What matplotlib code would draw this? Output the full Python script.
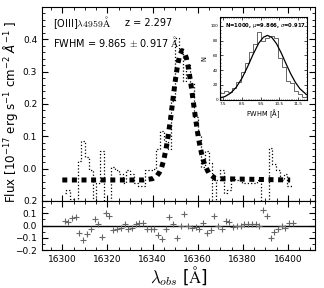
import matplotlib
matplotlib.use("Agg")
import matplotlib.pyplot as plt
from matplotlib.ticker import MultipleLocator

# 観測スペクトル ([OIII]4959 付近)
wave = [16301.0, 16302.7, 16304.3, 16306.0, 16307.6, 16309.3, 16311.0, 16312.6,
        16314.3, 16315.9, 16317.6, 16319.3, 16320.9, 16322.6, 16324.2, 16325.9,
        16327.6, 16329.2, 16330.9, 16332.5, 16334.2, 16335.9, 16337.5, 16339.2,
        16340.8, 16342.5, 16344.2, 16345.8, 16347.5, 16349.1, 16350.8, 16352.5,
        16354.1, 16355.8, 16357.4, 16359.1, 16360.8, 16362.4, 16364.1, 16365.7,
        16367.4, 16369.1, 16370.7, 16372.4, 16374.0, 16375.7, 16377.4, 16379.0,
        16380.7, 16382.3, 16384.0, 16385.7, 16387.3, 16389.0, 16390.6, 16392.3,
        16394.0, 16395.6, 16397.3, 16398.9, 16400.6, 16402.3]
flux = [-0.075, -0.065, -0.095, -0.105, 0.025, 0.085, 0.035, -0.005,
        -0.11, -0.045, 0.055, -0.135, -0.115, 0.005, -0.005, -0.015,
        -0.045, -0.005, -0.015, -0.045, -0.055, -0.055, -0.005, -0.005,
        -0.002, 0.06, 0.115, 0.085, 0.06, 0.208, 0.405, 0.36,
        0.27, 0.32, 0.265, 0.16, 0.105, 0.005, 0.055, 0.018,
        -0.11, -0.035, -0.005, -0.075, -0.065, -0.025, -0.035, -0.035,
        -0.045, -0.045, -0.045, -0.045, -0.035, -0.165, -0.115, 0.065,
        0.015, -0.005, -0.035, -0.015, -0.055, -0.055]
resid = [0.04, 0.03, 0.06, 0.07, -0.06, -0.12, -0.07, -0.03,
         0.05, 0.01, -0.09, 0.10, 0.08, -0.04, -0.03, -0.02,
         0.01, -0.03, -0.02, 0.01, 0.02, 0.02, -0.03, -0.03,
         -0.03, -0.08, -0.11, -0.03, 0.07, 0.01, -0.10, 0.00,
         0.09, 0.00, -0.02, -0.01, -0.03, 0.02, -0.06, -0.04,
         0.08, 0.00, -0.03, 0.04, 0.03, -0.01, 0.00, 0.00,
         0.01, 0.01, 0.01, 0.01, 0.00, 0.13, 0.08, -0.10,
         -0.05, -0.03, 0.00, -0.02, 0.02, 0.02]

# ガウスフィット
model_wave = [16300, 16336, 16340, 16342, 16343, 16344, 16345, 16346, 16347,
              16348, 16349, 16350, 16351, 16352, 16353, 16354, 16355, 16356,
              16357, 16358, 16359, 16360, 16361, 16362, 16363, 16365, 16368, 16401]
model_flux = [-0.035, -0.035, -0.031, -0.022, -0.012, 0.003, 0.028, 0.062, 0.105,
              0.155, 0.212, 0.268, 0.316, 0.350, 0.365, 0.362, 0.342, 0.308,
              0.262, 0.210, 0.158, 0.110, 0.070, 0.038, 0.014, -0.015, -0.031, -0.035]

# FWHM のモンテカルロ分布 (インセット)
fwhm_edges = [7.33, 7.55, 7.77, 7.99, 8.21, 8.43, 8.65, 8.87, 9.09, 9.31, 9.53,
              9.75, 9.97, 10.19, 10.41, 10.63, 10.85, 11.07, 11.29, 11.51, 11.73, 11.95]
fwhm_counts = [9, 12, 10, 16, 24, 38, 50, 64, 76, 92, 79, 84, 86, 83, 57, 44, 25, 22, 12, 7, 3]
fit_x = [7.33, 7.6, 7.9, 8.2, 8.5, 8.8, 9.1, 9.4, 9.65, 9.866, 10.1, 10.35,
         10.6, 10.85, 11.1, 11.35, 11.6, 11.95]
fit_n = [1.9, 4.1, 8.7, 16.7, 28.7, 44.3, 61.4, 76.5, 84.6, 87.0, 84.2, 75.7,
         63.2, 48.9, 35.2, 23.5, 14.6, 6.6]


def style_axis(ax, size):
    ax.tick_params(which="both", direction="in", top=True, right=True, labelsize=size)
    ax.tick_params(which="major", length=4, width=0.8)
    ax.tick_params(which="minor", length=2, width=0.6)


fig = plt.figure(figsize=(3.24, 2.88), dpi=100)
ax = fig.add_axes([0.1296, 0.3021, 0.8426, 0.6736])
axr = fig.add_axes([0.1296, 0.1319, 0.8426, 0.1702], sharex=ax)
axin = fig.add_axes([0.679, 0.6545, 0.267, 0.2865])

# スペクトルとフィット
ax.plot(wave, flux, color="k", ls=":", lw=0.9, drawstyle="steps-mid")
ax.plot(model_wave, model_flux, color="k", lw=3.6, ls=(0, (1, 0.92)))
ax.set_xlim(16291, 16412)
ax.set_ylim(-0.1, 0.5)
ax.set_yticks([0.0, 0.1, 0.2, 0.3, 0.4])
ax.yaxis.set_minor_locator(MultipleLocator(0.02))
ax.xaxis.set_major_locator(MultipleLocator(20))
ax.xaxis.set_minor_locator(MultipleLocator(5))
style_axis(ax, 6.5)
ax.tick_params(labelbottom=False)
ax.set_ylabel(r"Flux [10$^{-17}$ erg s$^{-1}$ cm$^{-2}$ $\AA^{-1}$ ]", fontsize=8.6)
ax.yaxis.set_label_coords(-0.082, 0.46)

ax.text(0.04, 0.92, r"[OIII]$\lambda4959\rm{\AA}$", transform=ax.transAxes,
        fontsize=7, va="center", math_fontfamily="cm")
ax.text(0.305, 0.92, "z = 2.297", transform=ax.transAxes, fontsize=7, va="center")
ax.text(0.04, 0.82, r"FWHM = 9.865 $\pm$ 0.917 $\rm{\AA}$", transform=ax.transAxes,
        fontsize=7, va="center", math_fontfamily="cm")

# 残差
axr.axhline(0, color="k", lw=1)
axr.plot(wave, resid, ls="none", marker="+", ms=4.5, mew=0.8, color="0.4")
axr.set_ylim(-0.2, 0.2)
axr.set_yticks([-0.2, -0.1, 0.0, 0.1, 0.2])
axr.yaxis.set_minor_locator(MultipleLocator(0.05))
style_axis(axr, 6.5)
axr.set_xlabel(r"$\lambda_{obs}$ [$\rm{\AA}$]", fontsize=12, math_fontfamily="cm", labelpad=0)

# インセット: FWHM 分布
axin.stairs(fwhm_counts, fwhm_edges, color="0.3", lw=0.6)
axin.plot(fit_x, fit_n, color="k", lw=0.9)
axin.set_xlim(7.33, 11.95)
axin.set_ylim(0, 112)
axin.set_xticks([7.5, 8.5, 9.5, 10.5, 11.5])
axin.xaxis.set_minor_locator(MultipleLocator(0.1))
axin.yaxis.set_major_locator(MultipleLocator(20))
axin.yaxis.set_minor_locator(MultipleLocator(5))
style_axis(axin, 3)
axin.tick_params(which="major", length=2, width=0.5, pad=1.5)
axin.tick_params(which="minor", length=1, width=0.4)
for s in axin.spines.values():
    s.set_linewidth(0.8)
axin.set_xlabel(r"FWHM [$\rm{\AA}$]", fontsize=4.8, labelpad=1.5)
axin.set_ylabel("N", fontsize=4.8, labelpad=2)
axin.text(0.52, 0.9, r"N=1000, $\mu$=9.866, $\sigma$=0.917", transform=axin.transAxes,
          fontsize=3.8, weight="bold", ha="center", va="center")

fig.savefig("out.png", dpi=100)
